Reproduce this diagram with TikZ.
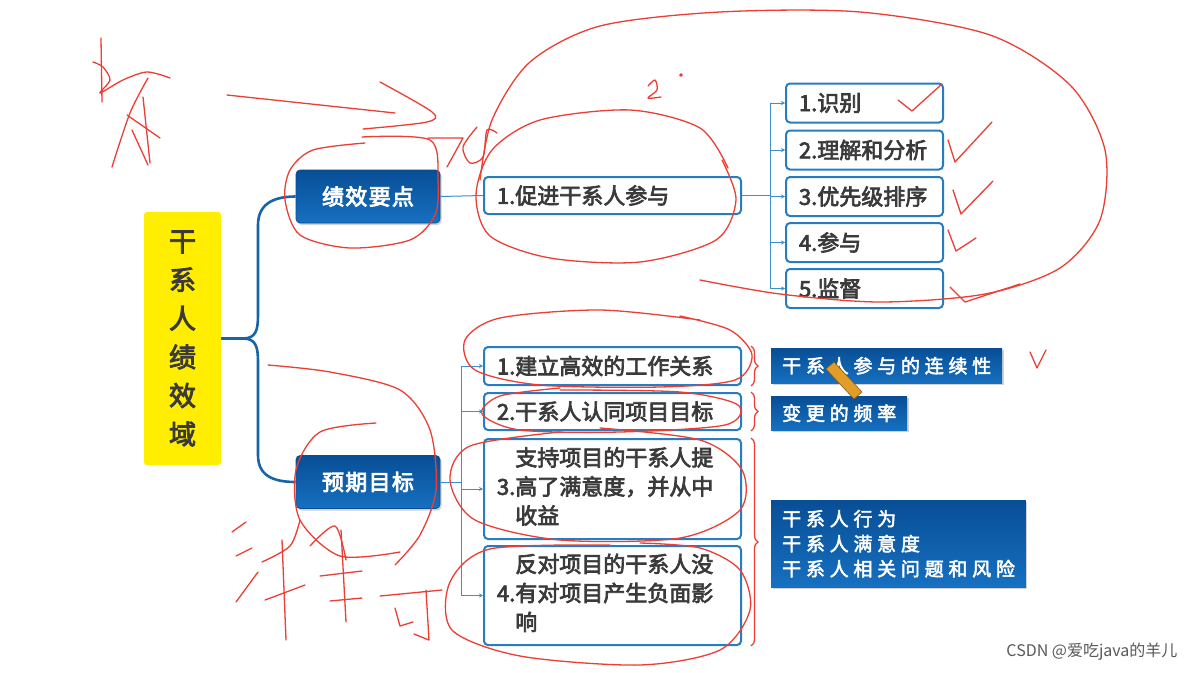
\documentclass[tikz,border=0pt]{standalone}
\usepackage{fontspec}
\setmainfont{Noto Sans CJK SC}
\newfontfamily\cjkb{Noto Sans CJK SC}
\newfontfamily\spaced{Noto Sans CJK SC}[LetterSpace=25]
\newfontfamily\spacedb{Noto Sans CJK SC}[LetterSpace=6]
\newcommand\fb[2][0.7]{\special{pdf:literal direct 2 Tr #1 w}#2\special{pdf:literal direct 0 Tr}}
\usetikzlibrary{shadows,decorations.pathreplacing,arrows.meta}
\definecolor{bluetop}{RGB}{22,112,192}
\definecolor{bluebot}{RGB}{8,78,150}
\definecolor{bord}{RGB}{40,124,192}
\definecolor{connc}{RGB}{60,142,205}
\definecolor{mainc}{RGB}{24,100,170}
\definecolor{txt}{RGB}{58,58,58}
\definecolor{yel}{RGB}{255,238,0}
\definecolor{pen}{RGB}{236,62,52}
\definecolor{pencil}{RGB}{226,156,40}
\tikzset{
  rootbox/.style={fill=yel, rounded corners=3pt, minimum width=77pt, minimum height=253pt,
    inner sep=0pt, text=txt, font=\cjkb\fontsize{27}{38.6}\selectfont, align=center},
  hub/.style={rounded corners=4pt, top color=bluebot, bottom color=bluetop, draw=bluebot,
    line width=.6pt, minimum width=144pt, minimum height=53pt, text=white,
    font=\spacedb\fontsize{22}{26}\selectfont,
    drop shadow={shadow xshift=1.5pt, shadow yshift=-2pt, opacity=.35}},
  wbox/.style={draw=bord, line width=2pt, fill=white, rounded corners=4pt, text=txt,
    font=\cjkb\fontsize{22}{29}\selectfont, align=left, inner xsep=13pt, inner ysep=0pt, anchor=west},
  tagbox/.style={top color=bluebot, bottom color=bluetop, text=white, align=left,
    font=\spaced\fontsize{19}{25}\selectfont, inner xsep=11pt, anchor=north west,
    drop shadow={shadow xshift=1.5pt, shadow yshift=-2pt, opacity=.35}},
  mainline/.style={draw=mainc, line width=2.6pt},
  thinline/.style={draw=connc, line width=1pt},
  arr/.style={-{Stealth[length=4pt,width=4pt]}},
  bracer/.style={draw=pen, line width=1.3pt, decorate, decoration={brace, amplitude=7pt}},
  pen/.style={draw=pen, line width=1.3pt, line cap=round, line join=round},
}
\begin{document}
\begin{tikzpicture}[x=1pt,y=-1pt]
\useasboundingbox (0,0) rectangle (1185,672);
\fill[white] (0,0) rectangle (1185,672);

% root and hubs
\node[rootbox] (root) at (182.5,338.5) {\fb[0.9]{干\\系\\人\\绩\\效\\域}};
\node[hub] (jx) at (368,196.5) {\fb[0.8]{绩效要点}};
\node[hub] (yq) at (368,482) {\fb[0.8]{预期目标}};

% main branches
\coordinate (fork) at (243,338.5);
\draw[mainline] (root.east) -- (fork);
\draw[mainline] (fork) .. controls (256,338.5) and (258,330) .. (258,315) -- (258,225)
  .. controls (258,205) and (272,196.5) .. (jx.west);
\draw[mainline] (fork) .. controls (256,338.5) and (258,347) .. (258,362) -- (258,455)
  .. controls (258,475) and (272,482) .. (yq.west);

% performance point branch
\node[wbox, text width=231pt, minimum height=37pt] (cj) at (483,195.5) {\fb{1.促进干系人参与}};
\node[wbox, text width=131pt, minimum height=39pt] (i1) at (785,103) {\fb{1.识别}};
\node[wbox, text width=131pt, minimum height=39pt] (i2) at (785,150) {\fb{2.理解和分析}};
\node[wbox, text width=131pt, minimum height=39pt] (i3) at (785,196.5) {\fb{3.优先级排序}};
\node[wbox, text width=131pt, minimum height=39pt] (i4) at (785,242.5) {\fb{4.参与}};
\node[wbox, text width=131pt, minimum height=39pt] (i5) at (785,288.5) {\fb{5.监督}};
\draw[thinline] (jx.east) -- (cj.west);
\coordinate (bus1) at (770,195.5);
\draw[thinline] (cj.east) -- (bus1);
\draw[thinline] (bus1 |- i1.west) -- (bus1 |- i5.west);
\foreach \n in {i1,i2,i3,i4,i5} \draw[thinline,arr] (bus1 |- \n.west) -- (\n.west);

% expected goals branch
\node[wbox, text width=231pt, minimum height=38pt] (g1) at (483,366) {\fb{1.建立高效的工作关系}};
\node[wbox, text width=231pt, minimum height=37pt] (g2) at (483,411.5) {\fb{2.干系人认同项目目标}};
\node[wbox, text width=231pt, minimum height=100pt] (g3) at (483,489)
  {\fb{\begin{tabular}{@{}r@{}l@{}}&支持项目的干系人提\\3.\hspace{3pt}&高了满意度，并从中\\&收益\end{tabular}}};
\node[wbox, text width=231pt, minimum height=99pt] (g4) at (483,595.5)
  {\fb{\begin{tabular}{@{}r@{}l@{}}&反对项目的干系人没\\4.\hspace{3pt}&有对项目产生负面影\\&响\end{tabular}}};
\coordinate (bus2) at (461,482);
\draw[thinline] (yq.east) -- (bus2);
\draw[thinline] (bus2 |- g1.west) -- (bus2 |- g4.west);
\foreach \n in {g1,g2,g3,g4} \draw[thinline,arr] (bus2 |- \n.west) -- (\n.west);

% measures
\node[tagbox, minimum height=35pt] (ta) at (771,348) {\fb[0.5]{干系人参与的连续性}};
\node[tagbox, minimum height=34pt] (tb) at (771,396) {\fb[0.5]{变更的频率}};
\node[tagbox, minimum height=87pt] (tc) at (771,500) {\fb[0.5]{干系人行为\\干系人满意度\\干系人相关问题和风险}};
\draw[bracer] ([xshift=9pt]g1.north east) -- ([xshift=9pt]g1.south east);
\draw[bracer] ([xshift=9pt]g2.north east) -- ([xshift=9pt]g2.south east);
\draw[bracer] ([xshift=9pt]g3.north east) -- ([xshift=9pt]g4.south east);

% pencil cursor
\draw[fill=pencil, draw=pencil!60!black, line width=.6pt]
  (826,369) -- (834,362) -- (862,392) -- (854,399) -- cycle;

% watermark
\node[anchor=east, text=black!65, font=\fontsize{16}{18}\selectfont] (wm) at (1181,652) {CSDN @爱吃java的羊儿};

% ---- red handwritten annotations ----
% top-left scribble
\draw[pen] (101,38) -- (102,102);
\draw[pen] plot[smooth] coordinates {(93,62) (103,67) (110,80) (100,93) (123,80) (147,72) (170,78)};
\draw[pen] plot[smooth] coordinates {(148,78) (130,113) (112,167)};
\draw[pen] (143,97) -- (150,163);
\draw[pen] (127,115) -- (160,138);
\draw[pen] (132,130) -- (148,165);
% arrow at top
\draw[pen] (227,95) -- (395,113);
\draw[pen] plot[smooth] coordinates {(380,82) (432,112) (427,122) (363,129)};
% "76"
\draw[pen] (428,138) -- (463,138) -- (447,167);
\draw[pen] plot[smooth] coordinates {(477,127) (463,147) (470,163) (483,157) (487,130) (497,133)};
\draw[pen] plot[smooth] coordinates {(648,86) (655,80) (657,90) (648,98) (661,97)};
\fill[pen] (681,75) circle (1.2pt);
% ellipse around 绩效要点
\draw[pen] plot[smooth] coordinates {(362,137) (430,140) (438,180) (435,215) (410,240) (350,248) (300,235) (285,200) (290,170) (313,150) (365,143)};
% around 促进干系人参与
\draw[pen] plot[smooth] coordinates {(722,160) (736,200) (716,240) (640,262) (550,258) (490,236) (476,195) (492,150) (540,120) (630,110) (700,128) (728,168)};
% big loop
\draw[pen] plot[smooth] coordinates {(480,180) (492,120) (530,62) (600,26) (720,12) (860,12) (990,35) (1070,85) (1105,150) (1100,220) (1060,268) (985,294) (880,302) (780,294) (700,280)};
% checks
\draw[pen] (898,100) -- (912,111) -- (942,84);
\draw[pen] (948,140) -- (955,162) -- (992,122);
\draw[pen] (953,190) -- (961,214) -- (993,181);
\draw[pen] (948,230) -- (956,251) -- (976,238);
\draw[pen] (950,287) -- (965,302) -- (1020,284);
\draw[pen] (1030,352) -- (1037,368) -- (1046,350);
% goals ellipses
\draw[pen] plot[smooth] coordinates {(700,320) (600,310) (500,318) (465,340) (475,370) (540,385) (660,387) (735,380) (752,355) (730,330) (680,316)};
\draw[pen] plot[smooth] coordinates {(560,390) (680,392) (738,405) (725,425) (620,432) (520,430) (482,414) (500,396) (560,388)};
\draw[pen] plot[smooth] coordinates {(560,432) (470,446) (450,480) (475,520) (560,540) (680,538) (740,510) (742,470) (700,440) (600,428)};
\draw[pen] plot[smooth] coordinates {(610,545) (490,549) (450,582) (452,630) (520,656) (640,665) (720,650) (750,610) (740,570) (700,548) (640,543)};
% around 预期目标
\draw[pen] plot[smooth] coordinates {(268,365) (330,372) (400,390) (430,430) (436,490) (420,535) (395,565)};
\draw[pen] plot[smooth] coordinates {(376,423) (320,432) (296,470) (300,520) (340,556) (400,552)};
% bottom-left scribble
\draw[pen] (232,532) -- (246,522);
\draw[pen] (236,556) -- (252,548);
\draw[pen] (236,602) -- (258,572);
\draw[pen] plot[smooth] coordinates {(262,562) (290,546) (300,520)};
\draw[pen] (265,600) -- (305,585);
\draw[pen] (282,540) -- (286,640);
\draw[pen] plot[smooth] coordinates {(310,546) (335,526) (346,560)};
\draw[pen] (320,576) -- (362,571);
\draw[pen] (341,530) -- (346,622);
\draw[pen] (330,601) -- (362,598);
\draw[pen] (380,596) -- (442,590);
\draw[pen] (426,590) -- (429,640) -- (414,634);
\draw[pen] (395,608) -- (400,626) -- (413,622);
\end{tikzpicture}
\end{document}
